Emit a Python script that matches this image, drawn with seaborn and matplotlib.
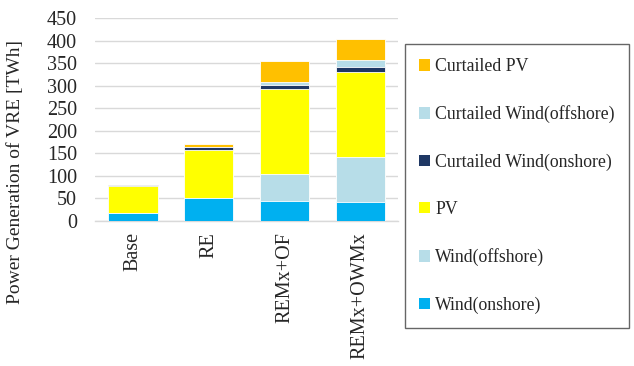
import numpy as np
import pandas as pd
import matplotlib
matplotlib.use("Agg")
import matplotlib.pyplot as plt
import seaborn as sns
from matplotlib.patches import Patch

scenarios = ["Base", "RE", "REMx+OF", "REMx+OWMx"]

# TWh, bottom to top of each stack
wind_onshore = [18, 50, 45, 43]
wind_offshore = [0, 0, 59, 99]
pv = [60, 107, 189, 189]
curt_wind_onshore = [1, 6, 8, 10]
curt_wind_offshore = [0, 1, 8, 15]
curt_pv = [2, 6, 46, 47]

series_names = ["Wind(onshore)", "Wind(offshore)", "PV",
                "Curtailed Wind(onshore)", "Curtailed Wind(offshore)", "Curtailed PV"]
series_values = [wind_onshore, wind_offshore, pv,
                 curt_wind_onshore, curt_wind_offshore, curt_pv]
colors = ["#00B0F0", "#B7DDE8", "#FFFF00", "#1F3864", "#B7DDE8", "#FFC000"]

sns.set_theme(style="white")
plt.rcParams["font.family"] = ["Liberation Serif", "DejaVu Serif"]

fig = plt.figure(figsize=(6.34, 3.66), dpi=100)
ax = fig.add_axes([0.150, 0.396, 0.478, 0.555])

df = pd.DataFrame({name: vals for name, vals in zip(series_names, series_values)})
df["scenario"] = scenarios
cum = df[series_names].cumsum(axis=1)

# draw cumulative totals from the top layer down so each layer shows its own band
for name, color in reversed(list(zip(series_names, colors))):
    sns.barplot(x=scenarios, y=cum[name].values, color=color, saturation=1,
                width=0.65, edgecolor="white", linewidth=0.6, ax=ax, zorder=3)

ax.set_ylim(0, 450)
ax.set_yticks(np.arange(0, 451, 50))
ax.set_xlim(-0.5, 3.5)
ax.yaxis.grid(True, color="#D9D9D9", linewidth=1.0, zorder=0)
ax.set_axisbelow(True)
for s in ["top", "right", "left"]:
    ax.spines[s].set_visible(False)
ax.spines["bottom"].set_color("#D9D9D9")
ax.spines["bottom"].set_linewidth(1.0)
ax.tick_params(axis="y", length=0, pad=13, labelsize=14.5)
ax.tick_params(axis="x", length=0, pad=8, labelsize=14.5, labelrotation=90)
ax.set_ylabel("Power Generation of VRE [TWh]", fontsize=14, labelpad=4)
ax.set_xlabel("")
ax.yaxis.set_label_coords(-0.235, 0.24)

handles = [Patch(facecolor=c, edgecolor="none", label=n)
           for n, c in zip(series_names, colors)][::-1]
leg = fig.legend(handles=handles, loc="upper left",
                 bbox_to_anchor=(0.639, 0.880), frameon=True, fancybox=False,
                 fontsize=12.8, handlelength=0.6, handleheight=0.6,
                 handletextpad=0.3, labelspacing=1.7, borderpad=0.8,
                 borderaxespad=0)
leg.get_frame().set_edgecolor("#404040")
leg.get_frame().set_linewidth(1.0)

fig.savefig("out.png", dpi=100)
